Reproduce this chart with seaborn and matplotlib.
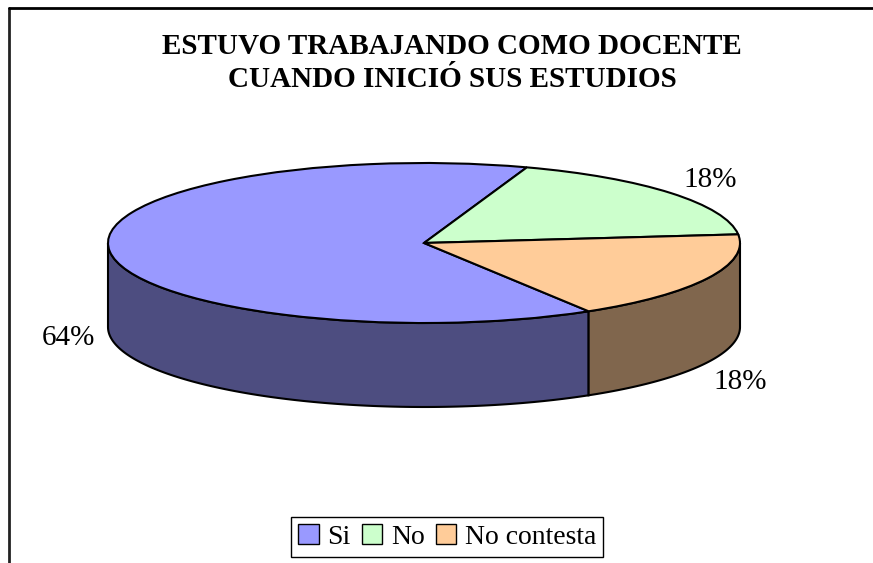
import numpy as np
import matplotlib.pyplot as plt
import seaborn as sns
from matplotlib.patches import Polygon, Patch
from matplotlib.lines import Line2D

# datos del grafico
categorias = ["Si", "No", "No contesta"]
porcentajes = [64, 18, 18]
etiquetas = ["64%", "18%", "18%"]
colores_top = ["#9999FF", "#CCFFCC", "#FFCC99"]
colores_lado = ["#4D4D80", "#668066", "#80664D"]
titulo = "ESTUVO TRABAJANDO COMO DOCENTE\nCUANDO INICIÓ SUS ESTUDIOS"

sns.set_theme(style="white")
plt.rcParams['font.family'] = ['Liberation Serif', 'DejaVu Serif']
plt.rcParams['text.color'] = 'black'

W, H = 873, 563
fig = plt.figure(figsize=(W / 100, H / 100), dpi=100)

# elipse del pastel en pixeles: centro, semiejes y grosor
cx, cy, a, b, prof = 424, 243, 316, 80, 84
d = prof / b
m = 0.05
ax = fig.add_axes([(cx - a * (1 + m)) / W, 1 - (cy + b * (1 + d + m)) / H,
                   2 * a * (1 + m) / W, b * (2 + d + 2 * m) / H])

inicio = 71 + 360 * porcentajes[0] / sum(porcentajes)
wedges, _ = ax.pie(porcentajes, colors=colores_top, startangle=inicio,
                   counterclock=False,
                   wedgeprops=dict(edgecolor='black', linewidth=1.5, zorder=3))
ax.set_aspect('auto')
ax.set_xlim(-1 - m, 1 + m)
ax.set_ylim(-1 - d - m, 1 + m)
ax.axis('off')

# paredes laterales (solo la mitad frontal se ve)
for w, col in zip(wedges, colores_lado):
    t1, t2 = w.theta1, w.theta2
    for k in (-1, 0, 1):
        lo = max(t1, 180 + 360 * k)
        hi = min(t2, 360 + 360 * k)
        if lo < hi:
            ts = np.radians(np.linspace(lo, hi, 120))
            arriba = np.column_stack([np.cos(ts), np.sin(ts)])
            abajo = np.column_stack([np.cos(ts), np.sin(ts) - d])[::-1]
            ax.add_patch(Polygon(np.vstack([arriba, abajo]), closed=True,
                                 facecolor=col, edgecolor='black',
                                 linewidth=1.5, zorder=1))

# etiquetas de porcentaje
pos_etiquetas = [(68, 338), (710, 180), (740, 382)]
for txt, (x, y) in zip(etiquetas, pos_etiquetas):
    fig.text(x / W, 1 - y / H, txt, fontsize=21, ha='center', va='center')

fig.text(452 / W, 1 - 63 / H, titulo, fontsize=21, fontweight='bold',
         ha='center', va='center', linespacing=1.3)

handles = [Patch(facecolor=c, edgecolor='black', linewidth=1) for c in colores_top]
leg = fig.legend(handles, categorias, loc='center',
                 bbox_to_anchor=(447 / W, 1 - 537 / H), ncol=3, frameon=True,
                 fancybox=False, edgecolor='black', framealpha=1, fontsize=20,
                 handlelength=0.75, handleheight=0.75, handletextpad=0.3,
                 columnspacing=0.4, borderpad=0.25, borderaxespad=0)
leg.get_frame().set_linewidth(1)

# marco del area del grafico (izquierda y arriba)
fig.add_artist(Line2D([9 / W, 9 / W], [0, 1 - 8 / H], color='#222222', lw=2))
fig.add_artist(Line2D([9 / W, 1], [1 - 8 / H, 1 - 8 / H], color='black', lw=2))

fig.savefig("out.png", dpi=100)
